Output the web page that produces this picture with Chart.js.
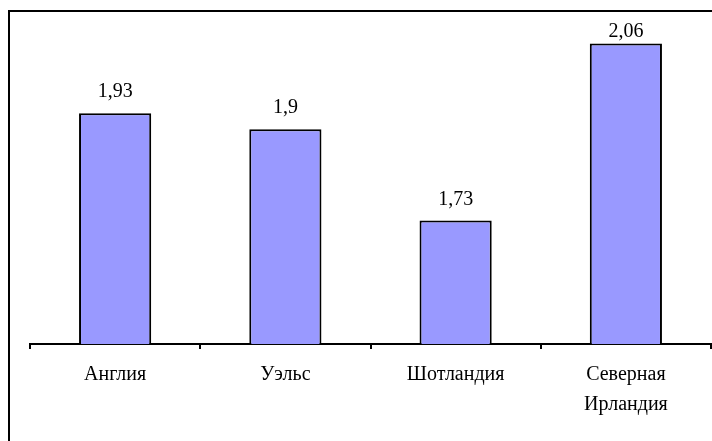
<!DOCTYPE html>
<html>
<head>
<meta charset="utf-8">
<script src="https://cdn.jsdelivr.net/npm/chart.js@4"></script>
<style>
  html, body { margin: 0; padding: 0; background: #fff; }
  #wrap { width: 712px; height: 441px; position: relative; }
</style>
</head>
<body>
<div id="wrap"><canvas id="c" width="712" height="441"></canvas></div>
<script>
const categories = ["Англия", "Уэльс", "Шотландия", ["Северная", "Ирландия"]];
const values = [1.93, 1.9, 1.73, 2.06];
const yMin = 1.5;
const yMax = 2.1;

const frame = {
  id: 'frame',
  beforeDraw(chart) {
    const ctx = chart.ctx;
    ctx.save();
    ctx.fillStyle = '#fff';
    ctx.fillRect(0, 0, chart.width, chart.height);
    ctx.strokeStyle = '#000';
    ctx.lineWidth = 2;
    ctx.beginPath();
    ctx.moveTo(9, chart.height + 5);
    ctx.lineTo(9, 11);
    ctx.lineTo(chart.width + 5, 11);
    ctx.stroke();
    ctx.restore();
  }
};

const valueLabels = {
  id: 'valueLabels',
  afterDatasetsDraw(chart) {
    const ctx = chart.ctx;
    const meta = chart.getDatasetMeta(0);
    ctx.save();
    ctx.font = '20px "Liberation Serif", "Times New Roman", serif';
    ctx.fillStyle = '#000';
    ctx.textAlign = 'center';
    ctx.textBaseline = 'alphabetic';
    meta.data.forEach((bar, i) => {
      const y = Math.max(bar.y - 16, chart.chartArea.top + 15);
      ctx.fillText(String(values[i]).replace('.', ','), bar.x, y);
    });
    ctx.restore();
  }
};

new Chart(document.getElementById('c'), {
  type: 'bar',
  data: {
    labels: categories,
    datasets: [{
      data: values,
      backgroundColor: '#9999FF',
      borderColor: '#000',
      borderWidth: 2,
      barPercentage: 0.424,
      categoryPercentage: 1
    }]
  },
  options: {
    responsive: false,
    animation: false,
    devicePixelRatio: 1,
    layout: { padding: { left: 30, right: 1, top: 22, bottom: 0 } },
    plugins: { legend: { display: false }, tooltip: { enabled: false } },
    scales: {
      x: {
        offset: true,
        grid: { display: true, drawOnChartArea: false, drawTicks: true, tickLength: 5, color: '#000', lineWidth: 2, offset: true },
        border: { display: true, color: '#000', width: 2 },
        ticks: {
          color: '#000',
          font: { family: '"Liberation Serif", "Times New Roman", serif', size: 20, lineHeight: 1.5 },
          padding: 11,
          maxRotation: 0,
          autoSkip: false
        },
        afterFit(scale) { scale.height = 97; }
      },
      y: {
        display: false,
        min: yMin,
        max: yMax
      }
    }
  },
  plugins: [frame, valueLabels]
});
</script>
</body>
</html>
